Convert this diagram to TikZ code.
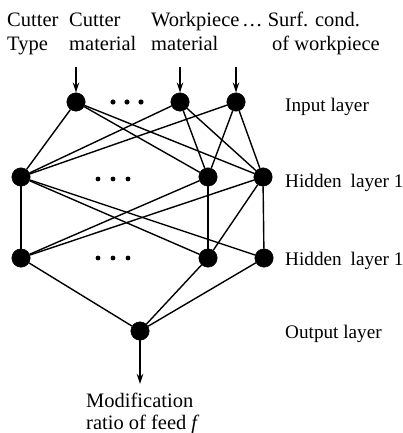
\documentclass[tikz,border=0pt]{standalone}
\usepackage{fontspec}
\setmainfont{Liberation Serif}
\usetikzlibrary{arrows.meta}
\begin{document}
\begin{tikzpicture}[x=1pt,y=-1pt,
  neuron/.style={circle,fill=black,draw=black,minimum size=18.5pt,inner sep=0pt},
  link/.style={line width=1.4pt},
  feed/.style={line width=1.6pt,-{Stealth[length=10pt,width=6.5pt]}},
  lbl/.style={anchor=base west,inner sep=0pt,font=\fontsize{20.5}{22}\selectfont},
  side/.style={lbl,font=\fontsize{19.2}{22}\selectfont},
  gap/.style={fill=black}]
\useasboundingbox (0,0) rectangle (403,433);

% input layer
\node[neuron] (i1) at (76,102) {};
\node[neuron] (i2) at (180,102) {};
\node[neuron] (i3) at (236,102) {};
% first hidden layer
\node[neuron] (a1) at (21,177) {};
\node[neuron] (a2) at (208,177) {};
\node[neuron] (a3) at (263,177) {};
% second hidden layer
\node[neuron] (b1) at (21,258) {};
\node[neuron] (b2) at (208,258) {};
\node[neuron] (b3) at (264,258) {};
% output layer
\node[neuron] (o) at (140,331) {};

% ellipsis dots
\foreach \x in {113,127,141} \fill[gap] (\x,102) circle (2.6pt);
\foreach \x in {98,113,128} {
  \fill[gap] (\x,179) circle (2.4pt);
  \fill[gap] (\x,258) circle (2.4pt);
}

% input -> hidden 1 (fully connected)
\foreach \s in {i1,i2,i3}
  \foreach \t in {a1,a2,a3}
    \draw[link] (\s) -- (\t);
% hidden 1 -> hidden 2
\draw[link] (a1) -- (b1);
\draw[link] (a1) -- (b2);
\draw[link] (a1) -- (b3);
\draw[link] (a2) -- (b1);
\draw[link] (a2) -- (b2);
\draw[link] (a3) -- (b1);
\draw[link] (a3) -- (b2);
\draw[link] (a3) -- (b3);
% hidden 2 -> output
\foreach \s in {b1,b2,b3}
  \draw[link] (\s) -- (o);

% input and output arrows
\coordinate (s1) at (76,67);
\coordinate (s2) at (180,67);
\coordinate (s3) at (236,67);
\coordinate (e) at (140,384);
\draw[feed] (s1) -- (i1);
\draw[feed] (s2) -- (i2);
\draw[feed] (s3) -- (i3);
\draw[feed] (o) -- (e);

% input labels
\node[lbl] (t1a) at (7,27) {Cutter};
\node[lbl] (t1b) at (7,51) {Type};
\node[lbl] (t2a) at (69,27) {Cutter};
\node[lbl] (t2b) at (69,51) {material};
\node[lbl] (t3a) at (151,27) {Workpiece};
\node[lbl] (t3b) at (151,51) {material};
\node[lbl] (t4a) at (242,27) {\dots\ Surf. cond.};
\node[lbl] (t4b) at (272,51) {of workpiece};

% layer labels
\node[side] (l1) at (285,111) {Input layer};
\node[side] (l2) at (285,187) {Hidden\hspace{9pt}layer 1};
\node[side] (l3) at (285,265) {Hidden\hspace{9pt}layer 1};
\node[side] (l4) at (285,338) {Output layer};

% output label
\node[lbl] (m1) at (86,407) {Modification};
\node[lbl] (m2) at (86,429) {ratio of feed \textit{f}};
\end{tikzpicture}
\end{document}
